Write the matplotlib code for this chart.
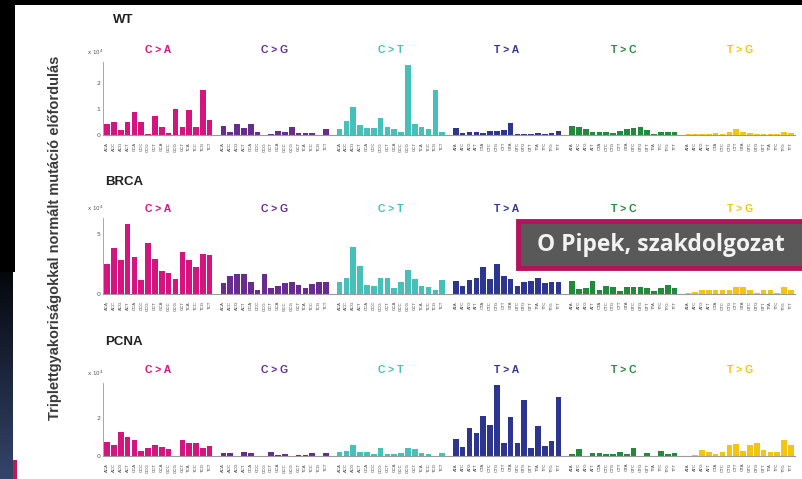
import matplotlib
matplotlib.use("Agg")
import matplotlib.pyplot as plt
import numpy as np
from matplotlib.patches import Rectangle

# ---------------- data ----------------
groups = ["C > A", "C > G", "C > T", "T > A", "T > C", "T > G"]
group_colors = ["#D4147F", "#6A2B90", "#45C1BA", "#2C3590", "#1F8B3B", "#F2C511"]
c_contexts = ["ACA", "ACC", "ACG", "ACT", "CCA", "CCC", "CCG", "CCT",
              "GCA", "GCC", "GCG", "GCT", "TCA", "TCC", "TCG", "TCT"]
t_contexts = ["ATA", "ATC", "ATG", "ATT", "CTA", "CTC", "CTG", "CTT",
              "GTA", "GTC", "GTG", "GTT", "TTA", "TTC", "TTG", "TTT"]

wt_values = [
    [0.43, 0.48, 0.20, 0.50, 0.87, 0.48, 0.02, 0.71, 0.29, 0.06, 1.00, 0.29, 0.95, 0.32, 1.71, 0.58],
    [0.36, 0.13, 0.42, 0.26, 0.42, 0.13, 0.00, 0.03, 0.17, 0.13, 0.32, 0.09, 0.09, 0.06, 0.00, 0.22],
    [0.22, 0.55, 1.08, 0.39, 0.26, 0.26, 0.65, 0.29, 0.22, 0.13, 2.69, 0.43, 0.29, 0.22, 1.73, 0.10],
    [0.28, 0.09, 0.13, 0.13, 0.09, 0.16, 0.16, 0.19, 0.45, 0.03, 0.03, 0.03, 0.06, 0.03, 0.09, 0.15],
    [0.36, 0.32, 0.23, 0.13, 0.13, 0.13, 0.09, 0.15, 0.23, 0.28, 0.32, 0.19, 0.03, 0.13, 0.13, 0.10],
    [0.02, 0.02, 0.04, 0.04, 0.09, 0.02, 0.13, 0.23, 0.13, 0.06, 0.04, 0.04, 0.04, 0.04, 0.13, 0.06],
]
brca_values = [
    [2.49, 3.81, 2.79, 5.83, 3.04, 1.19, 4.23, 2.90, 1.88, 1.74, 1.27, 3.45, 2.85, 2.21, 3.34, 3.26],
    [0.91, 1.52, 1.69, 1.69, 0.99, 0.30, 1.63, 0.50, 0.69, 0.91, 0.97, 0.72, 0.50, 0.86, 0.99, 0.99],
    [1.02, 1.33, 3.87, 2.29, 0.77, 0.69, 1.30, 1.35, 0.50, 0.99, 1.96, 1.27, 0.69, 0.58, 0.36, 1.13],
    [1.11, 0.64, 1.19, 1.33, 2.25, 1.28, 2.50, 1.47, 1.25, 0.64, 1.00, 1.11, 1.33, 0.92, 1.00, 1.00],
    [1.10, 0.42, 0.50, 1.05, 0.36, 0.64, 0.58, 0.22, 0.58, 0.58, 0.58, 0.50, 0.28, 0.50, 0.78, 0.50],
    [0.08, 0.15, 0.30, 0.30, 0.30, 0.30, 0.35, 0.55, 0.55, 0.30, 0.12, 0.30, 0.30, 0.12, 0.55, 0.30],
]
pcna_values = [
    [0.75, 0.57, 1.23, 1.00, 0.83, 0.26, 0.43, 0.57, 0.45, 0.35, 0.00, 0.83, 0.66, 0.66, 0.40, 0.54],
    [0.17, 0.14, 0.00, 0.23, 0.14, 0.00, 0.00, 0.19, 0.07, 0.09, 0.00, 0.03, 0.05, 0.14, 0.00, 0.14],
    [0.21, 0.26, 0.56, 0.21, 0.21, 0.09, 0.43, 0.12, 0.12, 0.17, 0.43, 0.38, 0.14, 0.09, 0.00, 0.14],
    [0.90, 0.49, 1.48, 1.22, 2.09, 1.60, 3.69, 0.70, 2.05, 0.70, 2.90, 0.43, 1.57, 0.50, 0.78, 3.08],
    [0.09, 0.35, 0.00, 0.17, 0.14, 0.09, 0.09, 0.23, 0.09, 0.43, 0.00, 0.17, 0.00, 0.26, 0.09, 0.14],
    [0.02, 0.03, 0.31, 0.21, 0.09, 0.21, 0.56, 0.61, 0.26, 0.56, 0.70, 0.31, 0.21, 0.21, 0.83, 0.56],
]

panels = ["WT", "BRCA", "PCNA"]
panel_values = [wt_values, brca_values, pcna_values]
panel_ylim = [2.8, 6.3, 3.8]
panel_yticks = [[0, 1, 2], [0, 5], [0, 2]]
ylabel = "Triplettgyakoriságokkal normált mutáció előfordulás"
credit = "O Pipek, szakdolgozat"

# ---------------- figure ----------------
W, H = 802, 479
fig = plt.figure(figsize=(W / 100, H / 100), dpi=100)
fig.patch.set_facecolor("white")

def fx(px):
    return px / W

def fy(py):
    return 1 - py / H

# slide decorations: black top band and left strip (upper part)
fig.patches.append(Rectangle((0, fy(5)), 1, 5 / H, transform=fig.transFigure,
                             facecolor="black", edgecolor="none", zorder=0))
fig.patches.append(Rectangle((0, fy(272)), fx(15), 272 / H, transform=fig.transFigure,
                             facecolor="black", edgecolor="none", zorder=0))
# navy gradient in lower-left strip
grad = np.linspace(0, 1, 100).reshape(-1, 1)
gax = fig.add_axes([0, 0, fx(13), fy(272)])
gax.imshow(grad, aspect="auto",
           cmap=matplotlib.colors.LinearSegmentedColormap.from_list("nv", ["#34456A", "#05070C"]),
           origin="lower", extent=[0, 1, 0, 1])
gax.axis("off")
gax.set_zorder(5)
fig.patches.append(Rectangle((fx(13), 0), fx(2), fy(272), transform=fig.transFigure,
                             facecolor="white", edgecolor="none", zorder=1))
fig.patches.append(Rectangle((fx(13), 0), fx(4), fy(460), transform=fig.transFigure,
                             facecolor="#C2185B", edgecolor="none", zorder=2))

# axes geometry (pixel baseline, pixel top)
geo = [(135, 62), (294, 218), (456, 383)]
title_xy = [(113, 20), (105, 182), (105, 342)]
label_h = [1.16, 1.12, 1.18]
left_px, right_px = 103, 795

xpos = []
for g in range(6):
    xpos.append(np.arange(16) + g * 17)

for p in range(3):
    base, top = geo[p]
    ax = fig.add_axes([fx(left_px), fy(base), fx(right_px - left_px), (base - top) / H])
    vals = panel_values[p]
    for g in range(6):
        ax.bar(xpos[g], vals[g], width=0.82, color=group_colors[g], linewidth=0)
        ax.text(xpos[g].mean(), label_h[p] * panel_ylim[p], groups[g],
                ha="center", va="center", fontsize=7.5, fontweight="bold",
                color=group_colors[g], family="Liberation Sans")
    ax.set_xlim(-0.6, 100.6)
    ax.set_ylim(0, panel_ylim[p])
    ax.set_yticks(panel_yticks[p])
    ax.set_yticklabels([str(t) for t in panel_yticks[p]], fontsize=4.5, color="#555555")
    ticks = np.concatenate(xpos)
    ax.set_xticks(ticks)
    labs = []
    for g in range(6):
        labs += c_contexts if g < 3 else t_contexts
    ax.set_xticklabels(labs, rotation=90, fontsize=3.2, color="#444444", family="Liberation Sans")
    ax.tick_params(axis="both", length=0, pad=2)
    ax.tick_params(axis="x", pad=5)
    for s in ["top", "right"]:
        ax.spines[s].set_visible(False)
    ax.spines["left"].set_color("#9a9a9a")
    ax.spines["left"].set_linewidth(0.6)
    ax.spines["bottom"].set_color("#9a9a9a")
    ax.spines["bottom"].set_linewidth(0.8)
    ax.text(-0.012, 1.13, "x 10$^4$", transform=ax.transAxes, fontsize=4, color="#555555",
            ha="center", va="center")
    ax.set_facecolor("none")
    fig.text(fx(title_xy[p][0]), fy(title_xy[p][1]), panels[p], fontsize=9.5, fontweight="bold",
             family="Liberation Sans", color="#222222", ha="left", va="center")

fig.text(fx(55), fy(238), ylabel, rotation=90, fontsize=10.5, fontweight="bold",
         family="Liberation Sans", color="#3a3a3a", ha="center", va="center")

# credit overlay box
box = Rectangle((fx(518), fy(268)), fx(300), (268 - 221) / H, transform=fig.transFigure,
                facecolor="#595959", edgecolor="#B3135C", linewidth=3.5, zorder=10)
fig.patches.append(box)
fig.text(fx(537), fy(245), credit, fontsize=16.5, fontweight="bold", family="Open Sans",
         color="#F2F2F2", ha="left", va="center", zorder=11)

fig.savefig("out.png", dpi=100)
